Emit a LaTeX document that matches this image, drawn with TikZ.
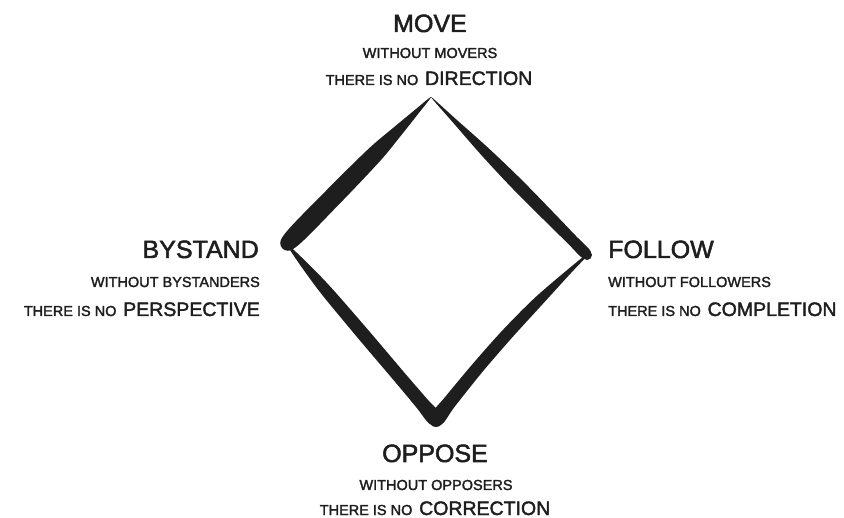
\documentclass[tikz,border=0pt]{standalone}
\usepackage{fontspec}
\setmainfont{Liberation Sans}
\newfontfamily\handfont{Liberation Sans}[FakeBold=2]
\definecolor{ink}{HTML}{1E1E1E}
\tikzset{
  big/.style={font=\handfont\fontsize{25}{28}\selectfont, inner sep=0pt, text=ink},
  mid/.style={font=\handfont\fontsize{14.5}{16}\selectfont, inner sep=0pt, text=ink},
  mixed/.style={font=\handfont, inner sep=0pt, text=ink},
  brush/.style={fill=ink, draw=none}
}
\newcommand{\smtxt}[1]{{\fontsize{14.5}{16}\selectfont #1}}
\newcommand{\lgtxt}[1]{{\fontsize{19.5}{22}\selectfont #1}}
\begin{document}
\begin{tikzpicture}[x=1pt,y=-1pt]
\useasboundingbox (0,0) rectangle (844,518);
% vertices
\coordinate (T) at (431,97);
\coordinate (L) at (288,243);
\coordinate (R) at (587,255);
\coordinate (B) at (436,420);
% left-top stroke
\fill[brush] plot[smooth cycle, tension=0.5] coordinates {
  (431,97) (414.9,109.9) (391.2,129.5) (367.8,149.5) (324.2,192.6) (282.3,237.4)
  (293.7,248.6) (337.6,205.8) (379.8,161.3) (399.4,137.5) (418.5,113.4)};
\fill[brush] (L) circle (7.8);
% top-right stroke
\fill[brush] plot[smooth cycle, tension=0.5] coordinates {
  (431,97) (456.0,119.2) (489.2,148.8) (521.3,179.5) (552.3,211.3) (575.3,235.3) (590.6,251.5)
  (583.4,258.5) (567.5,243.1) (543.7,219.7) (512.3,188.3) (482.0,155.8) (452.8,122.3)};
\fill[brush] (R) circle (5);
% right-bottom stroke
\fill[brush] plot[smooth cycle, tension=0.5] coordinates {
  (587.6,255.5) (572.1,271.8) (542.0,304.8) (511.8,337.9) (482.6,371.7) (454.6,406.8) (441.2,424.7)
  (430.8,415.3) (444.6,397.6) (473.3,363.2) (503.0,329.8) (534.6,298.0) (568.7,268.7) (586.4,254.5)};
% left-bottom stroke
\fill[brush] plot[smooth cycle, tension=0.5] coordinates {
  (289.2,248.6) (301.9,267.5) (322.1,294.8) (358.0,338.2) (394.5,381.2) (416.2,407.2) (430.7,424.5)
  (441.3,415.5) (426.6,398.4) (404.5,372.8) (368.0,329.8) (330.9,287.3) (307.3,262.9) (290.8,247.4)};
\fill[brush] (B) circle (7);
% top
\node[big, anchor=base] (move) at (430,32) {MOVE};
\node[mid, anchor=base] (movea) at (430,58) {WITHOUT MOVERS};
\node[mixed, anchor=base] (moveb) at (429,85) {\smtxt{THERE IS NO}\hspace{4pt} \lgtxt{DIRECTION}};
% left
\node[big, anchor=base east] (by) at (259,258) {BYSTAND};
\node[mid, anchor=base east] (bya) at (260,287) {WITHOUT BYSTANDERS};
\node[mixed, anchor=base east] (byb) at (260,316) {\smtxt{THERE IS NO}\hspace{4pt} \lgtxt{PERSPECTIVE}};
% right
\node[big, anchor=base west] (fo) at (608,258) {FOLLOW};
\node[mid, anchor=base west] (foa) at (608,287) {WITHOUT FOLLOWERS};
\node[mixed, anchor=base west] (fob) at (608,316) {\smtxt{THERE IS NO}\hspace{4pt} \lgtxt{COMPLETION}};
% bottom
\node[big, anchor=base] (op) at (435,462) {OPPOSE};
\node[mid, anchor=base] (opa) at (436,490) {WITHOUT OPPOSERS};
\node[mixed, anchor=base] (opb) at (435,515) {\smtxt{THERE IS NO}\hspace{4pt} \lgtxt{CORRECTION}};
\end{tikzpicture}
\end{document}
